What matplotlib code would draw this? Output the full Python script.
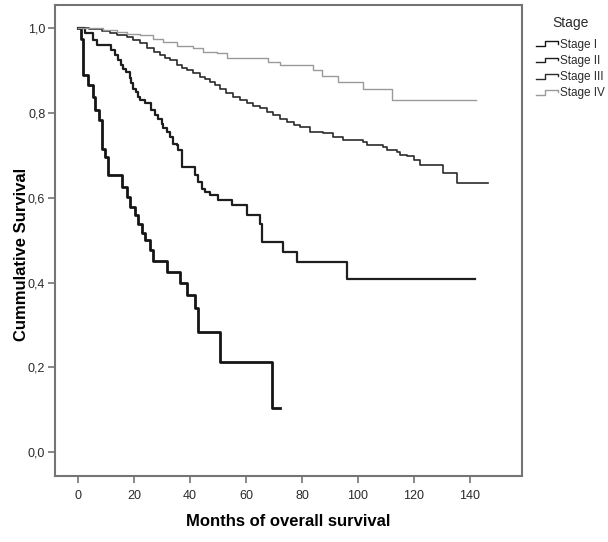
import matplotlib
matplotlib.use("Agg")
import matplotlib.pyplot as plt
from matplotlib.legend_handler import HandlerBase
from matplotlib.lines import Line2D

# Kaplan-Meier curves (months, cumulative survival)
stage_labels = ["Stage I", "Stage II", "Stage III", "Stage IV"]

# thick black curve (worst)
t_stage1 = [0, 1.0, 1.6, 3.6, 5.2, 6.0, 7.5, 8.4, 9.6, 10.7, 15.5, 17.3, 18.5,
            20.3, 21.5, 22.7, 23.9, 25.7, 26.8, 31.6, 36.4, 38.8, 41.8, 42.9,
            50.7, 69.2, 72.2]
s_stage1 = [1.0, 0.976, 0.890, 0.866, 0.838, 0.807, 0.783, 0.716, 0.696, 0.653,
            0.626, 0.602, 0.578, 0.559, 0.539, 0.516, 0.500, 0.476, 0.452,
            0.425, 0.398, 0.370, 0.339, 0.283, 0.212, 0.105, 0.105]

# curve ending near 0.41
t_stage2 = [0, 2.4, 5.4, 6.6, 11.9, 13.1, 14.3, 15.4, 16.0, 17.2, 18.4, 19.0,
            19.6, 20.8, 21.4, 22.0, 23.8, 26.2, 27.4, 28.6, 29.8, 30.4, 31.6,
            32.8, 34.0, 35.2, 35.8, 37.0, 41.8, 42.9, 44.1, 45.3, 47.1, 50.1,
            54.9, 60.3, 65.0, 65.8, 73.3, 78.1, 96.0, 142.0]
s_stage2 = [1.0, 0.990, 0.972, 0.961, 0.949, 0.937, 0.925, 0.913, 0.905, 0.897,
            0.882, 0.870, 0.858, 0.850, 0.838, 0.830, 0.823, 0.807, 0.795,
            0.787, 0.775, 0.764, 0.756, 0.744, 0.728, 0.724, 0.712, 0.673,
            0.653, 0.637, 0.622, 0.614, 0.606, 0.594, 0.582, 0.559, 0.539,
            0.496, 0.472, 0.448, 0.409, 0.409]

# curve ending near 0.64
t_stage3 = [0, 4, 8.4, 11.3, 14, 17.3, 19.5, 22.1, 24.5, 27, 29.2, 31, 32.8,
            35.2, 37, 38.8, 41, 43.5, 45.5, 47.1, 49, 50.7, 53, 55.5, 58, 60.3,
            62.5, 65.0, 67.5, 69.8, 72, 74.6, 77, 79.3, 82.9, 87.7, 91.2, 94.8,
            102.0, 103.2, 109.1, 110.3, 113.9, 115.1, 117.5, 119.9, 122.3,
            130.6, 135.4, 146.7]
s_stage3 = [1.0, 0.998, 0.995, 0.990, 0.985, 0.980, 0.972, 0.965, 0.953, 0.945,
            0.937, 0.931, 0.925, 0.913, 0.907, 0.901, 0.894, 0.886, 0.880,
            0.874, 0.866, 0.858, 0.848, 0.838, 0.830, 0.823, 0.817, 0.811,
            0.803, 0.795, 0.787, 0.779, 0.773, 0.767, 0.756, 0.752, 0.744,
            0.736, 0.732, 0.724, 0.720, 0.713, 0.709, 0.702, 0.698, 0.690,
            0.677, 0.659, 0.635, 0.635]

# light grey curve (best)
t_stage4 = [0, 8.9, 13.7, 17.3, 22.1, 26.8, 30.4, 35.2, 41.1, 44.7, 49.5, 53.1,
            68.0, 72.2, 84.1, 87.1, 93.0, 102.0, 112.1, 142.3]
s_stage4 = [1.0, 0.996, 0.992, 0.988, 0.984, 0.976, 0.968, 0.959, 0.953, 0.945,
            0.941, 0.929, 0.921, 0.913, 0.901, 0.888, 0.874, 0.856, 0.830, 0.830]

x_ticks = [0, 20, 40, 60, 80, 100, 120, 140]
y_ticks = [0.0, 0.2, 0.4, 0.6, 0.8, 1.0]
y_tick_labels = ["0,0", "0,2", "0,4", "0,6", "0,8", "1,0"]

colors = ["#151515", "#1e1e1e", "#2b2b2b", "#9a9a9a"]
widths = [2.0, 1.6, 1.2, 1.0]
frame_col = "#747474"


class StepHandler(HandlerBase):
    # little step glyph like the SPSS legend
    def create_artists(self, legend, orig_handle, xdescent, ydescent,
                       width, height, fontsize, trans):
        lo, hi = 0.15 * height, 0.75 * height
        xs = [0, 0.4 * width, 0.4 * width, 0.95 * width, 0.95 * width]
        ys = [lo, lo, hi, hi, 0.45 * height]
        line = Line2D(xs, ys, color=orig_handle.get_color(),
                      lw=1.0, transform=trans)
        return [line]


fig = plt.figure(figsize=(6.08, 5.42), dpi=100)
ax = fig.add_axes([55 / 608, (542 - 475.7) / 542, 466.5 / 608, 471 / 542])

series = [(t_stage1, s_stage1), (t_stage2, s_stage2),
          (t_stage3, s_stage3), (t_stage4, s_stage4)]
handles = []
for (t, s), lab, c, w in zip(series, stage_labels, colors, widths):
    h, = ax.step(t, s, where="post", color=c, lw=w, label=lab)
    handles.append(h)

ax.set_xlim(-8.3, 158.5)
ax.set_ylim(-0.056, 1.056)
ax.set_xticks(x_ticks)
ax.set_yticks(y_ticks)
ax.set_yticklabels(y_tick_labels)

for sp in ax.spines.values():
    sp.set_color(frame_col)
    sp.set_linewidth(1.5)
ax.tick_params(direction="out", length=5, width=1.2, color=frame_col,
               labelsize=9, labelcolor="#2a2a2a", pad=2)
ax.tick_params(axis="x", pad=5)
for lbl in ax.get_xticklabels() + ax.get_yticklabels():
    lbl.set_family("Liberation Sans")

ax.set_xlabel("Months of overall survival", fontsize=12, fontweight="bold",
              family="Liberation Sans", va="center")
ax.xaxis.set_label_coords(0.5, -0.097)
ax.set_ylabel("Cummulative Survival", fontsize=12, fontweight="bold",
              family="Liberation Sans", va="center")
ax.yaxis.set_label_coords(-0.072, 0.47)

leg = fig.legend(handles, stage_labels, title="Stage", loc="upper left",
                 bbox_to_anchor=(528 / 608, 1 - 8 / 542), frameon=False,
                 handler_map={Line2D: StepHandler()},
                 prop={"family": "Liberation Sans", "size": 8.5},
                 handlelength=1.9, handletextpad=0.1, labelspacing=0.35,
                 borderpad=0.2)
leg.get_title().set_fontsize(10)
leg.get_title().set_family("Liberation Sans")
leg.get_title().set_color("#2a2a2a")
for txt in leg.get_texts():
    txt.set_color("#2a2a2a")
leg._legend_box.sep = 6

fig.savefig("out.png", dpi=100)
